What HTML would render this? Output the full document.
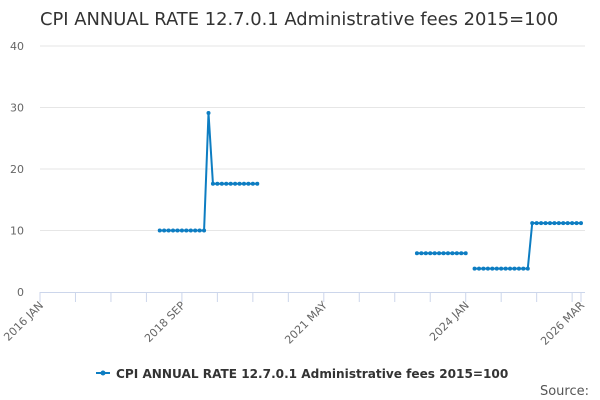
<!DOCTYPE html>
<html><head><meta charset="utf-8"><style>
body{margin:0;background:#fff;font-family:"DejaVu Sans","Liberation Sans",sans-serif;}
svg{display:block}
</style></head><body>
<svg id="chart" width="600" height="400" xmlns="http://www.w3.org/2000/svg" font-family="DejaVu Sans, Liberation Sans, sans-serif">
<text x="40" y="25" font-size="17.9" fill="#333">CPI ANNUAL RATE 12.7.0.1 Administrative fees 2015=100</text>
<g id="grid"></g><g id="xaxis"></g><g id="yaxis"></g><g id="series"></g>
<g>
<line x1="96" y1="373" x2="110" y2="373" stroke="#0d7dc2" stroke-width="2"/>
<circle cx="103" cy="373" r="2.5" fill="#0d7dc2"/>
<text x="116" y="378" font-size="12.1" font-weight="bold" fill="#333">CPI ANNUAL RATE 12.7.0.1 Administrative fees 2015=100</text>
</g>
<text x="589" y="395" font-size="13" fill="#555" text-anchor="end">Source:</text>
</svg>
<script>
const yTicks=[0,10,20,30,40];
const xLabels=["2016 JAN","2018 SEP","2021 MAY","2024 JAN","2026 MAR"];
const xLabelIdx=[0,32,64,96,122];
const N=123;
const N_=null;
const values=[
N_,N_,N_,N_,N_,N_,N_,N_,N_,N_,N_,N_,N_,N_,N_,N_,N_,N_,N_,N_,N_,N_,N_,N_,N_,N_,N_,
10,10,10,10,10,10,10,10,10,10,10,
29.1,
17.6,17.6,17.6,17.6,17.6,17.6,17.6,17.6,17.6,17.6,17.6,
N_,N_,N_,N_,N_,N_,N_,N_,N_,N_,N_,N_,N_,N_,N_,N_,N_,N_,N_,N_,N_,N_,N_,N_,N_,N_,N_,N_,N_,N_,N_,N_,N_,N_,N_,
6.3,6.3,6.3,6.3,6.3,6.3,6.3,6.3,6.3,6.3,6.3,6.3,
N_,
3.8,3.8,3.8,3.8,3.8,3.8,3.8,3.8,3.8,3.8,3.8,3.8,3.8,
11.2,11.2,11.2,11.2,11.2,11.2,11.2,11.2,11.2,11.2,11.2,11.2
];
const NS="http://www.w3.org/2000/svg";
const x0=40,x1=581,y0=292,y1=46,ymax=40;
const X=i=>x0+(x1-x0)*i/(N-1);
const Y=v=>y0-(y0-y1)*v/ymax;
function mk(t,a,p){const e=document.createElementNS(NS,t);for(const k in a)e.setAttribute(k,a[k]);p.appendChild(e);return e;}
const grid=document.getElementById('grid'),ya=document.getElementById('yaxis'),xa=document.getElementById('xaxis'),ser=document.getElementById('series');
yTicks.forEach(v=>{
 if(v>0){const g=mk('line',{x1:x0,x2:585,y1:Y(v),y2:Y(v),stroke:'#e6e6e6'},grid);
 
 }
 const t=mk('text',{x:24,y:Y(v)+4,'font-size':11,fill:'#666','text-anchor':'end'},ya);t.textContent=v;
 
 
});
const ax=mk('line',{x1:x0,x2:585,y1:y0+0.5,y2:y0+0.5,stroke:'#ccd6eb'},xa);


for(let i=0;i<N;i+=8){const tk=mk('line',{x1:X(i),x2:X(i),y1:y0,y2:y0+10,stroke:'#ccd6eb'},xa);
 
 }
const tl=mk('line',{x1:X(N-1),x2:X(N-1),y1:y0,y2:y0+10,stroke:'#ccd6eb'},xa);


xLabels.forEach((s,k)=>{const x=X(xLabelIdx[k])+4,y=y0+14;
 const t=mk('text',{x:x,y:y,'font-size':11,fill:'#666','text-anchor':'end',transform:`rotate(-45 ${x} ${y})`},xa);t.textContent=s;
 
 });
let d='',pen=false;
values.forEach((v,i)=>{if(v==null){pen=false;return;}d+=(pen?'L':'M')+X(i)+' '+Y(v)+' ';pen=true;});
const p=mk('path',{d:d,fill:'none',stroke:'#0d7dc2','stroke-width':2},ser);


values.forEach((v,i)=>{if(v==null)return;const c=mk('circle',{cx:X(i),cy:Y(v),r:2,fill:'#0d7dc2'},ser);
 
 });
</script>
</body></html>
